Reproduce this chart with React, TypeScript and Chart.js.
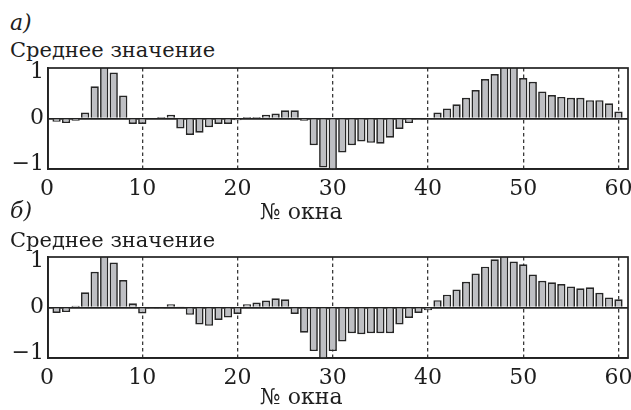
import React, { useEffect, useRef } from "react";
import { Chart, registerables } from "chart.js";

Chart.register(...registerables);

const windows = [1, 2, 3, 4, 5, 6, 7, 8, 9, 10, 11, 12, 13, 14, 15, 16, 17, 18, 19, 20,
  21, 22, 23, 24, 25, 26, 27, 28, 29, 30, 31, 32, 33, 34, 35, 36, 37, 38, 39, 40,
  41, 42, 43, 44, 45, 46, 47, 48, 49, 50, 51, 52, 53, 54, 55, 56, 57, 58, 59, 60];

const valuesA = [-0.07, -0.10, -0.05, 0.13, 0.70, 1.15, 1.00, 0.50, -0.12, -0.12,
  0.0, 0.03, 0.08, -0.22, -0.36, -0.31, -0.19, -0.12, -0.12, -0.04,
  0.03, 0.03, 0.08, 0.11, 0.18, 0.18, -0.05, -0.58, -1.07, -1.15,
  -0.74, -0.58, -0.50, -0.53, -0.55, -0.42, -0.23, -0.10, -0.02, -0.02,
  0.13, 0.22, 0.31, 0.45, 0.62, 0.86, 0.97, 1.15, 1.15, 0.88,
  0.80, 0.59, 0.51, 0.47, 0.45, 0.45, 0.40, 0.40, 0.33, 0.15];

const valuesB = [-0.12, -0.10, 0.04, 0.33, 0.78, 1.15, 0.98, 0.60, 0.09, -0.13,
  -0.02, -0.02, 0.07, 0.01, -0.16, -0.37, -0.40, -0.27, -0.22, -0.14,
  0.07, 0.11, 0.15, 0.20, 0.18, -0.14, -0.55, -0.95, -1.15, -0.95,
  -0.74, -0.56, -0.58, -0.56, -0.56, -0.56, -0.37, -0.23, -0.12, -0.06,
  0.16, 0.28, 0.39, 0.56, 0.74, 0.89, 1.05, 1.15, 1.00, 0.94,
  0.72, 0.58, 0.55, 0.51, 0.46, 0.42, 0.44, 0.32, 0.22, 0.18];

const xTicks = [0, 10, 20, 30, 40, 50, 60];
const yTicks = [-1, 0, 1];

const yLabel = "Среднее значение";
const xLabel = "№ окна";

const FONT = "'DejaVu Serif', serif";

const framePlugin = {
  id: "frame",
  afterDraw(chart: any) {
    const { ctx, chartArea } = chart;
    ctx.save();
    ctx.strokeStyle = "#222";
    ctx.lineWidth = 1.7;
    ctx.strokeRect(chartArea.left, chartArea.top, chartArea.right - chartArea.left, chartArea.bottom - chartArea.top);
    ctx.restore();
  },
};

function Panel({ values, top }: { values: number[]; top: number }) {
  const ref = useRef<HTMLCanvasElement | null>(null);
  useEffect(() => {
    if (!ref.current) return;
    const chart = new Chart(ref.current, {
      type: "bar",
      data: {
        datasets: [
          {
            data: windows.map((w, i) => ({ x: w, y: values[i] })),
            backgroundColor: "#bebfc3",
            borderColor: "#262626",
            borderWidth: 1.7,
            barPercentage: 1,
            categoryPercentage: 0.87,
            clip: 0,
          } as any,
        ],
      },
      options: {
        responsive: false,
        animation: false,
        events: [],
        layout: { padding: { top: 8, right: 3, left: 0, bottom: 0 } },
        plugins: { legend: { display: false }, tooltip: { enabled: false } },
        scales: {
          x: {
            type: "linear",
            offset: false,
            min: 0.1,
            max: 61,
            afterBuildTicks: (s: any) => {
              s.ticks = xTicks.map((v) => ({ value: v }));
            },
            afterFit: (s: any) => {
              s.height = 36;
              s.paddingLeft = 0;
              s.paddingRight = 0;
            },
            ticks: {
              autoSkip: false,
              maxRotation: 0,
              padding: 7,
              color: "#1e1e1e",
              font: { family: FONT, size: 22 },
              callback: (v: any) => String(v),
            },
            grid: {
              offset: false,
              drawTicks: false,
              color: (ctx: any) => (ctx.tick && ctx.tick.value === 0 ? "rgba(0,0,0,0)" : "#3a3a3a"),
              lineWidth: 1.3,
            },
            border: { display: true, color: "#222", width: 1.7, dash: [3.5, 3] },
          },
          y: {
            type: "linear",
            min: -1.1,
            max: 1.1,
            afterBuildTicks: (s: any) => {
              s.ticks = yTicks.map((v) => ({ value: v }));
            },
            afterFit: (s: any) => {
              s.width = 48;
              s.paddingTop = 0;
              s.paddingBottom = 0;
            },
            ticks: {
              padding: 4,
              color: "#1e1e1e",
              font: { family: FONT, size: 22 },
              callback: (v: any) => (v < 0 ? "\u2212" + Math.abs(v) : String(v)),
            },
            grid: {
              drawTicks: false,
              color: (ctx: any) => (ctx.tick && ctx.tick.value === 0 ? "#222" : "rgba(0,0,0,0)"),
              lineWidth: 1.7,
            },
            border: { display: true, color: "#222", width: 1.7 },
          },
        },
      },
      plugins: [framePlugin],
    });
    return () => chart.destroy();
  }, [values]);
  return (
    <canvas
      ref={ref}
      width={631}
      height={145}
      style={{ position: "absolute", left: 0, top, width: 631, height: 145 }}
    />
  );
}

const textBase: React.CSSProperties = {
  position: "absolute",
  fontFamily: FONT,
  color: "#1e1e1e",
  lineHeight: 1,
  whiteSpace: "nowrap",
};

export default function App() {
  return (
    <div style={{ position: "absolute", left: 0, top: 0, width: 631, height: 410, background: "#fff", overflow: "hidden" }}>
      <div style={{ ...textBase, left: 10, top: 12, fontSize: 22, fontStyle: "italic" }}>а)</div>
      <div style={{ ...textBase, left: 10, top: 40, fontSize: 21 }}>{yLabel}</div>
      <Panel values={valuesA} top={60} />
      <div style={{ ...textBase, left: 260, top: 201, fontSize: 22 }}>{xLabel}</div>
      <div style={{ ...textBase, left: 10, top: 200, fontSize: 22, fontStyle: "italic" }}>б)</div>
      <div style={{ ...textBase, left: 10, top: 230, fontSize: 21 }}>{yLabel}</div>
      <Panel values={valuesB} top={249} />
      <div style={{ ...textBase, left: 260, top: 386, fontSize: 22 }}>{xLabel}</div>
    </div>
  );
}
